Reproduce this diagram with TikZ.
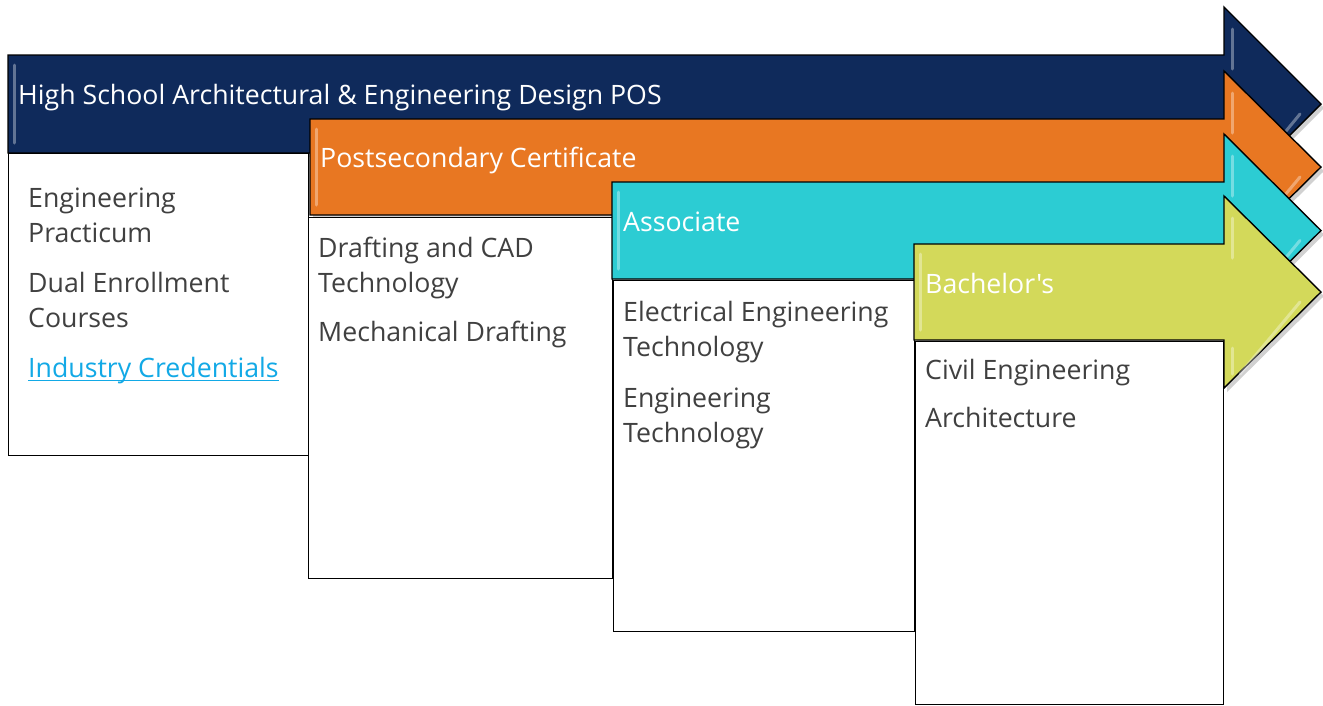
\documentclass[tikz,border=0pt]{standalone}
\usepackage{fontspec}
\setmainfont{Open Sans}
\newfontfamily\straightquotes{Open Sans}[Ligatures=TeXOff]
\begin{document}
\begin{tikzpicture}[x=1pt,y=-1pt,
  stagebox/.style={draw=black, line width=1.4pt, fill=white},
  stagearrow/.style={draw=black, line width=1.4pt, line join=miter},
  titletext/.style={anchor=base west, inner sep=0pt, text=white, font=\fontsize{26.7}{35}\selectfont},
  itemtext/.style={anchor=base west, inner sep=0pt, text=itemgray, font=\fontsize{26.7}{35}\selectfont},
  shine/.style={line width=3pt, white, opacity=0.35, line cap=round},
]
\definecolor{navy}{HTML}{0F2A5B}
\definecolor{orangeA}{HTML}{E87722}
\definecolor{cyanA}{HTML}{2CCCD3}
\definecolor{limeA}{HTML}{D3D95A}
\definecolor{itemgray}{HTML}{404040}
\definecolor{linkblue}{HTML}{12A9E6}

\useasboundingbox (0,0) rectangle (1323,705);

% #1 left, #2 top, #3 bottom, #4 fill
\newcommand{\stagearrowshape}[4]{%
  \pgfmathsetmacro{\cy}{(#2+#3)/2}%
  \pgfmathsetmacro{\hh}{\cy-#2+48}%
  \fill[black, opacity=0.18] (#1+3,#2+4) -- (1227,#2+4) -- (1227,\cy-\hh+4) -- (1324,\cy+4) -- (1227,\cy+\hh+4) -- (1227,#3+4) -- (#1+3,#3+4) -- cycle;
  \path[stagearrow, fill=#4] (#1,#2) -- (1224,#2) -- (1224,\cy-\hh) -- (1321,\cy) -- (1224,\cy+\hh) -- (1224,#3) -- (#1,#3) -- cycle;
  \draw[shine] (#1+6,#2+10) -- (#1+6,#3-10);
  \draw[shine] (1232,\cy-\hh+22) -- (1232,#2+14);
  \draw[shine] (1232,\cy+\hh-14) -- (1232,\cy+\hh-40);
  \draw[shine] (1240,\cy+\hh-14) -- (1300,\cy+10);
}

% High school stage
\stagearrowshape{8}{55}{153}{navy}
\node[titletext] (hs) at (18,104) {High School Architectural \& Engineering Design POS};
\node[stagebox, minimum width=300pt, minimum height=302pt, anchor=north west, inner sep=0pt] (hsbox) at (8,153) {};
\node[itemtext] (hs1) at (28,207) {Engineering};
\node[itemtext] (hs2) at (28,242) {Practicum};
\node[itemtext] (hs3) at (28,292) {Dual Enrollment};
\node[itemtext] (hs4) at (28,327) {Courses};
\node[itemtext, text=linkblue] (hs5) at (28,377) {Industry Credentials};
\draw[linkblue, line width=1.3pt] ([yshift=-3.5pt]hs5.base west) -- ([yshift=-3.5pt]hs5.base east);

% Postsecondary certificate stage
\stagearrowshape{310}{119}{215}{orangeA}
\node[titletext] (pc) at (320,167) {Postsecondary Certificate};
\node[stagebox, minimum width=304pt, minimum height=361pt, anchor=north west, inner sep=0pt] (pcbox) at (308,217) {};
\node[itemtext] (pc1) at (318,257) {Drafting and CAD};
\node[itemtext] (pc2) at (318,292) {Technology};
\node[itemtext] (pc3) at (318,341) {Mechanical Drafting};

% Associate stage
\stagearrowshape{612}{182}{279}{cyanA}
\node[titletext] (as) at (623,231) {Associate};
\node[stagebox, minimum width=301pt, minimum height=351pt, anchor=north west, inner sep=0pt] (asbox) at (613,280) {};
\node[itemtext] (as1) at (623,321) {Electrical Engineering};
\node[itemtext] (as2) at (623,356) {Technology};
\node[itemtext] (as3) at (623,407) {Engineering};
\node[itemtext] (as4) at (623,442) {Technology};

% Bachelor's stage
\stagearrowshape{914}{244}{340}{limeA}
\node[titletext] (ba) at (925,293) {\straightquotes Bachelor's};
\node[stagebox, minimum width=308pt, minimum height=363pt, anchor=north west, inner sep=0pt] (babox) at (915,341) {};
\node[itemtext] (ba1) at (925,379) {Civil Engineering};
\node[itemtext] (ba2) at (925,427) {Architecture};
\end{tikzpicture}
\end{document}
